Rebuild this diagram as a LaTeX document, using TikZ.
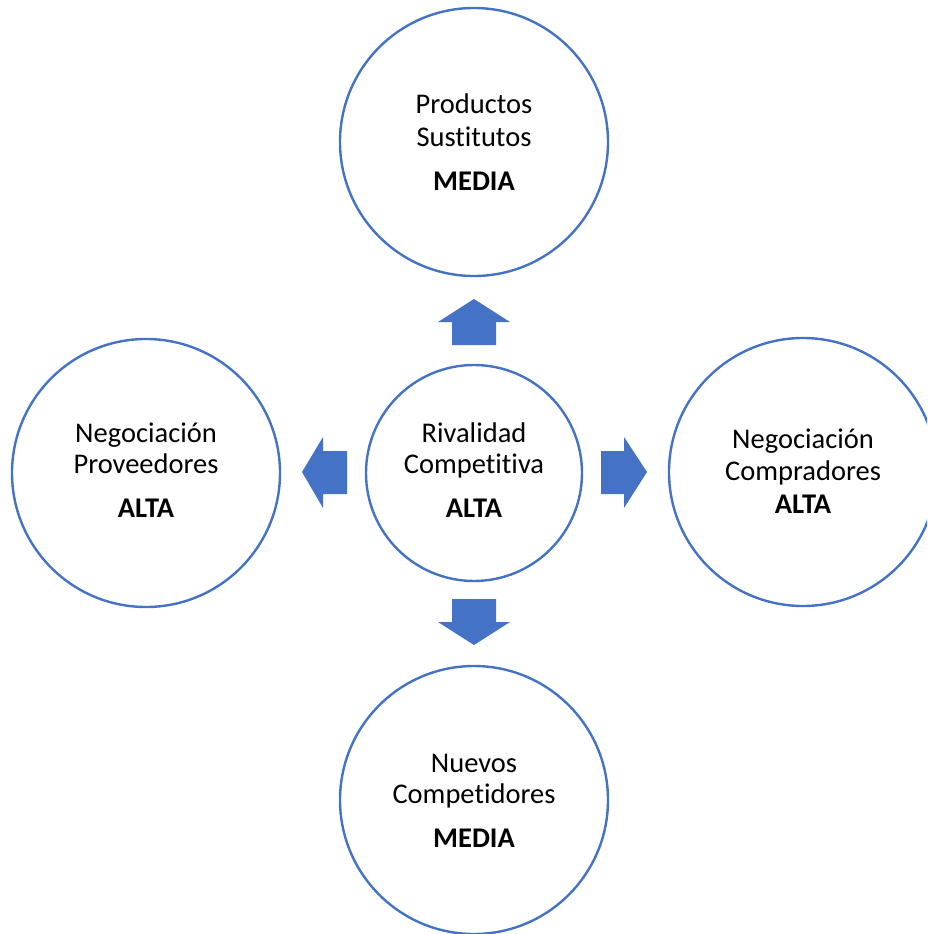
\documentclass[tikz,border=0pt]{standalone}
\usepackage{fontspec}
\setmainfont[Ligatures=NoCommon,RawFeature=-liga]{Carlito}
\definecolor{office}{HTML}{4472C4}
\begin{document}
\begin{tikzpicture}[x=1pt,y=-1pt,
  ring/.style={circle,draw=office,line width=2.4pt,fill=white,inner sep=0pt},
  lbl/.style={anchor=base,font=\fontsize{28.5}{28.5}\selectfont,inner sep=0pt},
  blbl/.style={lbl,font=\fontsize{28.5}{28.5}\selectfont\bfseries},
  blk/.style={fill=office,draw=none}]
\useasboundingbox (0,0) rectangle (927,934);
\clip (0,0) rectangle (927,934);
% circles
\node[ring,minimum size=268pt] (top) at (474,142) {};
\node[ring,minimum size=268pt] (left) at (146,473) {};
\node[ring,minimum size=268pt] (right) at (803,472) {};
\node[ring,minimum size=268pt] (bottom) at (474,800) {};
\node[ring,minimum size=216pt] (center) at (474,473) {};
% arrows
\fill[blk] (452,345) -- (452,322) -- (438,322) -- (474,299) -- (510,322) -- (496,322) -- (496,345) -- cycle;
\fill[blk] (452,599) -- (452,622) -- (438,622) -- (474,645) -- (510,622) -- (496,622) -- (496,599) -- cycle;
\fill[blk] (347,451) -- (323,451) -- (323,437) -- (302,472) -- (323,508) -- (323,494) -- (347,494) -- cycle;
\fill[blk] (601,451) -- (624,451) -- (624,437) -- (647,472) -- (624,508) -- (624,494) -- (601,494) -- cycle;
% texts
\node[lbl] (t1) at (474,113) {Productos};
\node[lbl] (t2) at (474,146) {Sustitutos};
\node[blbl] (t3) at (474,190) {MEDIA};
\node[lbl] (l1) at (146,442) {Negociación};
\node[lbl] (l2) at (146,473) {Proveedores};
\node[blbl] (l3) at (146,517) {ALTA};
\node[lbl] (c1) at (474,442) {Rivalidad};
\node[lbl] (c2) at (474,473) {Competitiva};
\node[blbl] (c3) at (474,517) {ALTA};
\node[lbl] (r1) at (803,448) {Negociación};
\node[lbl] (r2) at (803,480) {Compradores};
\node[blbl] (r3) at (803,513) {ALTA};
\node[lbl] (b1) at (474,772) {Nuevos};
\node[lbl] (b2) at (474,803) {Competidores};
\node[blbl] (b3) at (474,847) {MEDIA};
\end{tikzpicture}
\end{document}
